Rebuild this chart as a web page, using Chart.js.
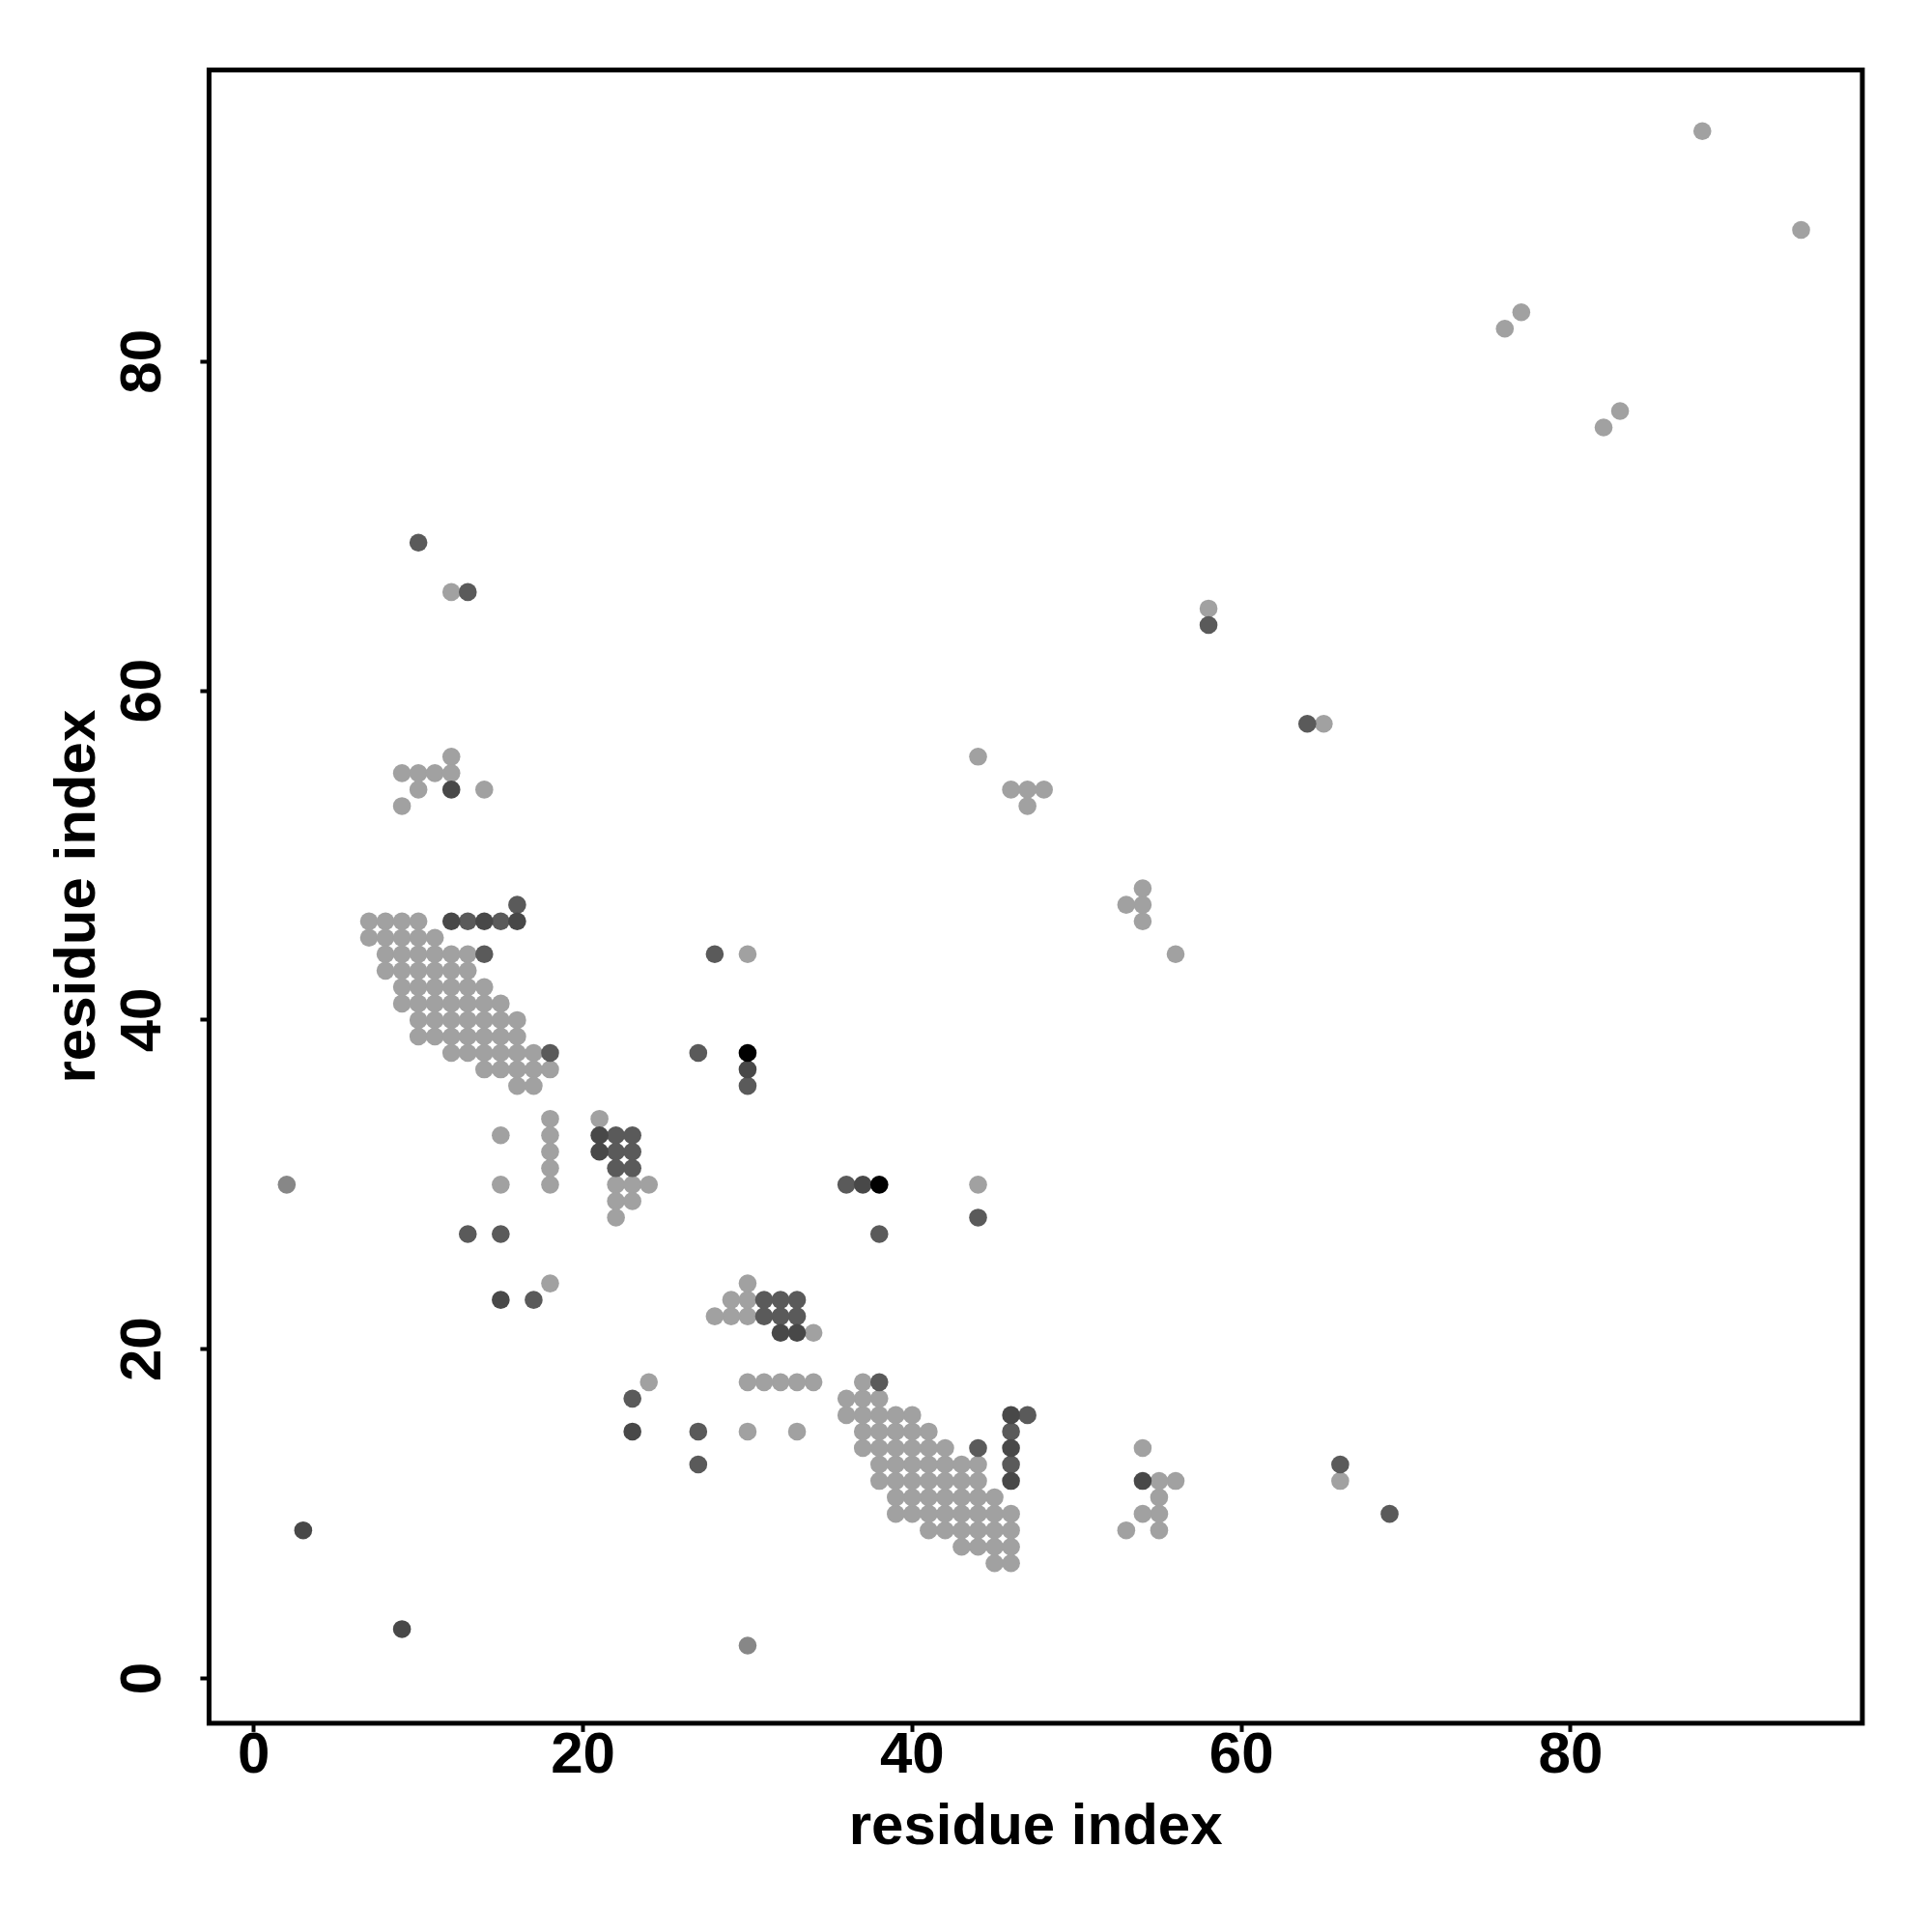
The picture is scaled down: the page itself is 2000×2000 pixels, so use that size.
<!DOCTYPE html>
<html><head><meta charset="utf-8">
<script src="https://cdn.jsdelivr.net/npm/chart.js@4.4.1/dist/chart.umd.min.js"></script>
<style>html,body{margin:0;padding:0;background:#fff}canvas{display:block}</style>
</head><body>
<canvas id="c" width="2000" height="2000"></canvas>
<script>
// ---- data ----
const axisMin = -2.72, axisMax = 97.72;
const tickValues = [0, 20, 40, 60, 80];
const xTitle = 'residue index';
const yTitle = 'residue index';

const lightPoints = [
  [12,66],[12,56],[9,55],[10,55],[11,55],[12,55],[10,54],[14,54],[9,53],
  [7,46],[8,46],[9,46],[10,46],
  [7,45],[8,45],[9,45],[10,45],[11,45],
  [8,44],[9,44],[10,44],[11,44],[12,44],[13,44],
  [8,43],[9,43],[10,43],[11,43],[12,43],[13,43],
  [9,42],[10,42],[11,42],[12,42],[13,42],[14,42],
  [9,41],[10,41],[11,41],[12,41],[13,41],[14,41],[15,41],
  [10,40],[11,40],[12,40],[13,40],[14,40],[15,40],[16,40],
  [10,39],[11,39],[12,39],[13,39],[14,39],[15,39],[16,39],
  [12,38],[13,38],[14,38],[15,38],[16,38],[17,38],
  [14,37],[15,37],[16,37],[17,37],[18,37],
  [16,36],[17,36],
  [15,33],[15,30],[18,34],[18,33],[18,32],[18,31],[18,30],[21,34],
  [22,30],[23,30],[24,30],[22,29],[23,29],[22,28],[18,24],[30,44],
  [66,12],[56,12],[55,9],[55,10],[55,11],[55,12],[54,10],[54,14],[53,9],
  [46,7],[46,8],[46,9],[46,10],
  [45,7],[45,8],[45,9],[45,10],[45,11],
  [44,8],[44,9],[44,10],[44,11],[44,12],[44,13],
  [43,8],[43,9],[43,10],[43,11],[43,12],[43,13],
  [42,9],[42,10],[42,11],[42,12],[42,13],[42,14],
  [41,9],[41,10],[41,11],[41,12],[41,13],[41,14],[41,15],
  [40,10],[40,11],[40,12],[40,13],[40,14],[40,15],[40,16],
  [39,10],[39,11],[39,12],[39,13],[39,14],[39,15],[39,16],
  [38,12],[38,13],[38,14],[38,15],[38,16],[38,17],
  [37,14],[37,15],[37,16],[37,17],[37,18],
  [36,16],[36,17],
  [33,15],[30,15],[34,18],[33,18],[32,18],[31,18],[30,18],[34,21],
  [30,22],[30,23],[30,24],[29,22],[29,23],[28,22],[24,18],[44,30],
  [44,56],[46,54],[47,54],[48,54],[47,53],
  [56,44],[54,46],[54,47],[54,48],[53,47],
  [58,65],[65,58],[76,82],[82,76],[77,83],[83,77],[88,94],[94,88]
];

const darkPoints = [
  [10,69],[69,10],[13,66],[66,13],[13,46],[15,46],[46,13],[46,15],
  [16,47],[47,16],[14,44],[44,14],[18,38],[38,18],
  [13,27],[15,27],[27,13],[27,15],[17,23],[23,17],
  [28,44],[44,28],[27,38],[38,27],[30,36],[36,30],[58,64],[64,58],
  [22,33],[23,33],[22,32],[23,32],[22,31],[23,31],
  [33,22],[33,23],[32,22],[32,23],[31,22],[31,23]
];

const darkerPoints = [
  [12,54],[54,12],[12,46],[46,12],[14,46],[46,14],[16,46],[46,16],
  [15,23],[23,15],[30,37],[37,30],[3,9],[9,3],
  [21,33],[21,32],[33,21],[32,21]
];

const mediumPoints = [[2,30],[30,2]];
const blackPoints = [[30,38],[38,30]];

// ---- chart ----
const FONT = "'Liberation Sans', Arial, Helvetica, sans-serif";
const toXY = pts => pts.map(([x, y]) => ({x, y}));
const ds = (pts, color, order) => ({
  data: toXY(pts), backgroundColor: color, borderWidth: 0,
  pointRadius: 9.3, pointHoverRadius: 9.3, pointBorderWidth: 0, order
});

const boxPlugin = {
  id: 'box',
  afterDraw(chart) {
    const {ctx, chartArea: a} = chart;
    ctx.save();
    ctx.lineWidth = 5;
    ctx.strokeStyle = '#000';
    ctx.strokeRect(a.left, a.top, a.right - a.left, a.bottom - a.top);
    ctx.restore();
  }
};

const setTicks = s => { s.ticks = tickValues.map(v => ({value: v})); };
const gridOpts = {display: true, drawOnChartArea: false, drawTicks: true,
  tickLength: 9, tickWidth: 4, tickColor: '#000'};

new Chart(document.getElementById('c'), {
  type: 'scatter',
  data: {
    datasets: [
      ds(blackPoints, '#000000', 1),
      ds(darkerPoints, '#484848', 2),
      ds(darkPoints, '#5a5a5a', 3),
      ds(mediumPoints, '#878787', 4),
      ds(lightPoints, '#a1a1a1', 5)
    ]
  },
  options: {
    responsive: false,
    devicePixelRatio: 1,
    animation: false,
    events: [],
    layout: {padding: {top: 72.4, right: 72.1, left: 0, bottom: 0}},
    plugins: {legend: {display: false}, tooltip: {enabled: false}},
    scales: {
      x: {
        type: 'linear', position: 'bottom', min: axisMin, max: axisMax,
        afterBuildTicks: setTicks,
        afterFit: s => { s.height = 216.1; },
        grid: gridOpts,
        border: {display: false},
        ticks: {autoSkip: false, maxRotation: 0, padding: -10.5, color: '#000',
          font: {family: FONT, size: 60, weight: 'bold'}},
        title: {display: true, text: xTitle, color: '#000',
          font: {family: FONT, size: 60, weight: 'bold'}, padding: {top: 0, bottom: 72}}
      },
      y: {
        type: 'linear', position: 'left', min: axisMin, max: axisMax,
        afterBuildTicks: setTicks,
        afterFit: s => { s.width = 216.4; },
        grid: gridOpts,
        border: {display: false},
        ticks: {autoSkip: false, minRotation: 90, maxRotation: 90, crossAlign: 'center',
          padding: 24.2, color: '#000', font: {family: FONT, size: 60, weight: 'bold'}},
        title: {display: true, text: yTitle, color: '#000',
          font: {family: FONT, size: 60, weight: 'bold'}, padding: {top: 45, bottom: 0}}
      }
    }
  },
  plugins: [boxPlugin]
});
</script>
</body></html>
